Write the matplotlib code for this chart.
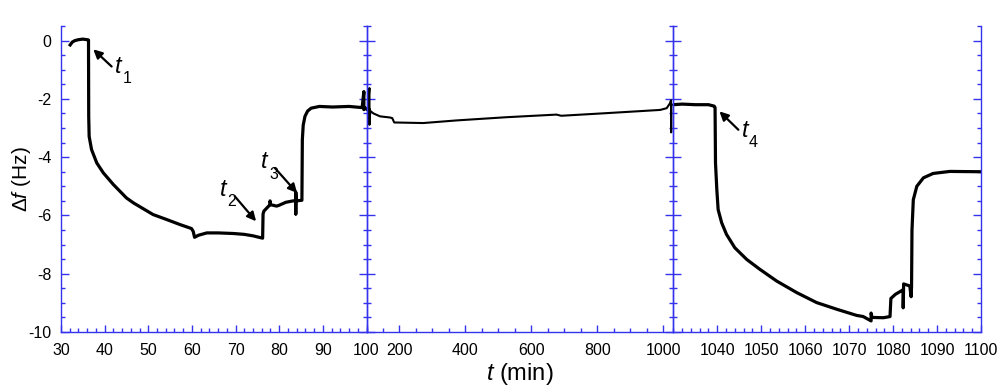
import numpy as np
import matplotlib
matplotlib.use('Agg')
import matplotlib.pyplot as plt
from matplotlib.ticker import MultipleLocator, FixedLocator

plt.rcParams['font.family'] = ['Liberation Sans', 'DejaVu Sans']
plt.rcParams['mathtext.fontset'] = 'custom'
plt.rcParams['mathtext.rm'] = 'Liberation Sans'
plt.rcParams['mathtext.it'] = 'Liberation Sans:italic'

# readings from the picture: time (min), frequency shift (Hz)
t_left = [32.1, 32.6, 33.2, 34, 35, 36, 36.3, 36.35, 36.45, 37.0, 38.2, 39.7, 42.0, 45.0, 46.6,
          51.1, 54.2, 57.2, 59.9, 60.3, 60.6, 61.5, 63.4, 66, 69.5, 72, 74.0, 75.9, 76.2,
          76.3, 76.5, 77.9, 77.9, 78.0, 79.4, 80.0, 81.5, 83.2, 83.8, 83.8, 83.8, 83.9,
          85.2, 85.3, 85.5, 85.9, 86.5, 87.3, 89.2, 92.2, 96.0, 99.0, 99.4, 99.4, 99.6, 100]
f_left = [-0.15, -0.05, 0.0, 0.03, 0.05, 0.03, 0.02, -2.6, -3.29, -3.74, -4.2, -4.54, -4.94, -5.4, -5.57,
          -5.97, -6.14, -6.31, -6.45, -6.55, -6.75, -6.68, -6.6, -6.6, -6.62, -6.65, -6.7, -6.77, -6.78,
          -5.95, -5.85, -5.63, -5.5, -5.63, -5.68, -5.65, -5.55, -5.5, -5.5, -5.95, -5.2, -5.5,
          -5.48, -3.4, -2.9, -2.6, -2.42, -2.32, -2.26, -2.28, -2.26, -2.3, -1.75, -2.37, -2.3, -2.35]

t_mid = [100, 104, 109, 109, 109.5, 110, 121, 141, 171, 178, 184, 272, 373, 524, 676, 690,
         706, 828, 990, 1010, 1020, 1023, 1023.5, 1024, 1030]
f_mid = [-2.35, -2.3, -1.63, -2.89, -2.35, -2.4, -2.5, -2.6, -2.64, -2.66, -2.81, -2.83, -2.74, -2.63, -2.54, -2.58,
         -2.57, -2.49, -2.38, -2.32, -2.15, -2.05, -3.15, -2.2, -2.2]

t_right = [1030, 1032, 1035, 1038, 1039.3, 1039.5, 1039.6, 1039.9, 1040.2,
           1041.0, 1042.1, 1044.0, 1046.7, 1049.7, 1053.5, 1058.1, 1062.6, 1067.2, 1071.7, 1073.2,
           1075, 1075, 1075.2, 1077.8, 1079.3, 1079.5, 1080.5, 1082.3, 1082.3, 1082.4, 1083.8,
           1084.1, 1084.2, 1084.3, 1084.6, 1085.4, 1086.9, 1089.1, 1092.9, 1099.4, 1100]
f_right = [-2.2, -2.18, -2.2, -2.2, -2.25, -2.3, -4.2, -5.11, -5.8,
           -6.25, -6.65, -7.11, -7.51, -7.85, -8.25, -8.65, -8.99, -9.22, -9.43, -9.47,
           -9.62, -9.35, -9.5, -9.51, -9.47, -8.85, -8.71, -8.55, -9.17, -8.35, -8.42,
           -8.79, -8.45, -6.5, -5.46, -5.0, -4.71, -4.56, -4.49, -4.5, -4.5]

# (label, arrow tip, arrow tail, text position, panel)
marks = [('1', (37.4, -0.3), (41.6, -0.89), (42.3, -0.88), 0),
         ('2', (74.7, -6.2), (69.8, -5.34), (66.4, -5.1), 0),
         ('3', (84.1, -5.23), (79.0, -4.37), (75.9, -4.15), 0),
         ('4', (1040.5, -2.43), (1044.8, -3.06), (1045.5, -3.08), 2)]

blue = '#3333ee'
fig = plt.figure(figsize=(10, 3.87), dpi=100)
bot, h = 1 - 332 / 387, (332 - 26) / 387
ax1 = fig.add_axes([0.061, bot, 0.3055, h])
ax2 = fig.add_axes([0.3665, bot, 0.3068, h])
ax3 = fig.add_axes([0.6733, bot, 0.3077, h])
axes = [ax1, ax2, ax3]

ax1.plot(t_left, f_left, color='k', lw=2.3)
ax2.plot(t_mid, f_mid, color='k', lw=1.5)
ax3.plot(t_right, f_right, color='k', lw=2.3)

ax1.set_xlim(30, 100)
ax2.set_xlim(100, 1030)
ax3.set_xlim(1030, 1100)
ax1.xaxis.set_major_locator(MultipleLocator(10))
ax1.xaxis.set_minor_locator(MultipleLocator(2))
ax2.xaxis.set_major_locator(FixedLocator([200, 400, 600, 800, 1000]))
ax2.xaxis.set_minor_locator(MultipleLocator(50))
ax3.xaxis.set_major_locator(FixedLocator([1040, 1050, 1060, 1070, 1080, 1090, 1100]))
ax3.xaxis.set_minor_locator(MultipleLocator(2))

for ax in axes:
    ax.set_ylim(-10, 0.5)
    ax.yaxis.set_major_locator(MultipleLocator(2))
    ax.yaxis.set_minor_locator(MultipleLocator(0.5))
    ax.spines['top'].set_visible(False)
    for s in ['left', 'right', 'bottom']:
        ax.spines[s].set_color(blue)
        ax.spines[s].set_linewidth(1.0)
    ax.tick_params(axis='both', which='both', direction='in', color=blue,
                   top=False, left=True, right=True, labelsize=11.5, width=1.0)
    ax.tick_params(axis='y', which='major', length=6, pad=7)
    ax.tick_params(axis='y', which='minor', length=3)
    ax.tick_params(axis='x', which='major', length=5, pad=8)
    ax.tick_params(axis='x', which='minor', length=3)
    ax.patch.set_alpha(0)

ax2.tick_params(axis='y', labelleft=False)
ax3.tick_params(axis='y', labelleft=False)
ax1.set_yticks([0, -2, -4, -6, -8, -10])
ax1.set_yticklabels(['0', '-2', '-4', '-6', '-8', '-10'])

ax1.set_ylabel(r'$\Delta f$ (Hz)', fontsize=15)
ax1.yaxis.set_label_coords(-0.092, 0.5)
ax2.set_xlabel(r'$t$ (min)', fontsize=17, labelpad=2)

for sub, tip, tail, pos, k in marks:
    ax = axes[k]
    ax.annotate('', xy=tip, xytext=tail,
                arrowprops=dict(arrowstyle='-|>', color='k', lw=1.6, mutation_scale=13,
                                shrinkA=0, shrinkB=0))
    ax.text(pos[0], pos[1], 't', fontsize=17, style='italic', ha='left', va='center')
    ax.annotate(sub, xy=pos, xytext=(5.5, -9), textcoords='offset points',
                fontsize=11.5, ha='left', va='center')

fig.savefig('out.png', dpi=100)
